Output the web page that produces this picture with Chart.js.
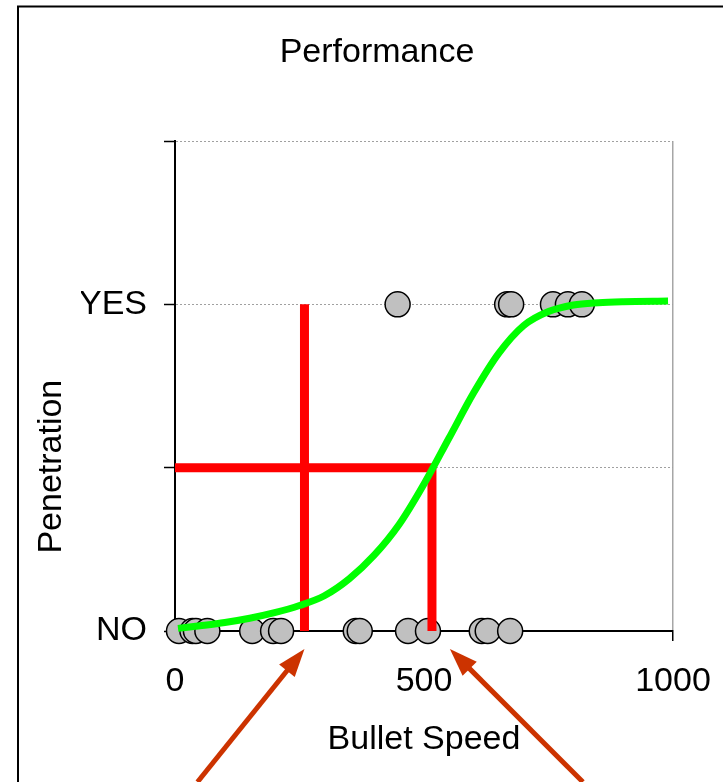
<!DOCTYPE html>
<html>
<head>
<meta charset="utf-8">
<script src="https://cdn.jsdelivr.net/npm/chart.js@4"></script>
<style>
html,body{margin:0;padding:0;background:#fff;overflow:hidden}
canvas{display:block}
</style>
</head>
<body>
<canvas id="c" width="723" height="782"></canvas>
<script>
// ---- data ----
const chartTitle = 'Performance';
const xAxisTitle = 'Bullet Speed';
const yAxisTitle = 'Penetration';
const xTickValues = [0, 500, 1000];
const xTickLabels = ['0', '500', '1000'];
const yTickValues = [0, 0.5, 1, 1.5];
const yTickLabels = ['NO', '', 'YES', ''];

// observed outcomes (NO = 0, YES = 1)
const noSpeeds  = [8, 35, 42, 65, 155, 197, 213, 363, 371, 468, 508, 616, 628, 673];
const noOutcome = [0, 0, 0, 0, 0, 0, 0, 0, 0, 0, 0, 0, 0, 0];
const yesSpeeds  = [447, 667, 675, 759, 789, 817];
const yesOutcome = [1, 1, 1, 1, 1, 1];

// fitted curve
const curveSpeeds = [6, 50, 100, 150, 200, 250, 300, 350, 400, 450, 500, 550, 600, 650, 700, 750, 800, 850, 900, 990];
const curveProb   = [0.008, 0.016, 0.026, 0.039, 0.056, 0.078, 0.108, 0.160, 0.232, 0.326, 0.450, 0.590, 0.730, 0.850, 0.935, 0.978, 0.998, 1.005, 1.008, 1.010];

// red guide lines
const guide1X = [260, 260];
const guide1Y = [0, 1];
const guide2X = [0, 516, 516];
const guide2Y = [0.5, 0.5, 0];

// arrow annotations (speed each arrow points at)
const arrowSpeeds = [260, 552];
const arrowSides  = [-1, 1];

const F = "'Liberation Sans', Arial, sans-serif";
const toXY = (xs, ys) => xs.map((x, i) => ({x: x, y: ys[i]}));

const decorPlugin = {
  id: 'decor',
  afterDraw(chart) {
    const ctx = chart.ctx;
    const xs = chart.scales.x, ys = chart.scales.y;
    const area = chart.chartArea;
    ctx.save();
    // outer frame
    ctx.strokeStyle = '#000';
    ctx.lineWidth = 2;
    ctx.beginPath();
    ctx.moveTo(18, 782);
    ctx.lineTo(18, 6.5);
    ctx.lineTo(723, 6.5);
    ctx.stroke();
    // y axis title
    ctx.save();
    ctx.translate(52, ys.getPixelForValue(0.5) - 1);
    ctx.rotate(-Math.PI / 2);
    ctx.fillStyle = '#000';
    ctx.font = '34px ' + F;
    ctx.textAlign = 'center';
    ctx.textBaseline = 'middle';
    ctx.fillText(yAxisTitle, 0, 0);
    ctx.restore();
    // arrows
    ctx.strokeStyle = '#CC3300';
    ctx.fillStyle = '#CC3300';
    arrowSpeeds.forEach((v, i) => {
      const tx = xs.getPixelForValue(v);
      const ty = area.bottom + 18;
      const side = arrowSides[i];
      const fx = tx + (side < 0 ? -107 : 133);
      const fy = ty + 133;
      const dx = tx - fx, dy = ty - fy;
      const len = Math.hypot(dx, dy);
      const ux = dx / len, uy = dy / len;
      const headL = 28, headW = 10;
      const bx = tx - ux * headL, by = ty - uy * headL;
      ctx.lineWidth = 5;
      ctx.beginPath();
      ctx.moveTo(fx, fy);
      ctx.lineTo(bx + ux * 2, by + uy * 2);
      ctx.stroke();
      ctx.beginPath();
      ctx.moveTo(tx, ty);
      ctx.lineTo(bx - uy * headW, by + ux * headW);
      ctx.lineTo(bx + uy * headW, by - ux * headW);
      ctx.closePath();
      ctx.fill();
    });
    ctx.restore();
  }
};

new Chart(document.getElementById('c'), {
  type: 'scatter',
  data: {
    datasets: [
      {
        label: 'Fit', type: 'line', data: toXY(curveSpeeds, curveProb),
        borderColor: '#00FF00', borderWidth: 7, pointRadius: 0, fill: false,
        cubicInterpolationMode: 'monotone', borderCapStyle: 'butt', order: 1, clip: false
      },
      {
        label: 'Guide 1', type: 'line', data: toXY(guide1X, guide1Y),
        borderColor: '#FF0000', borderWidth: 9, pointRadius: 0, fill: false, tension: 0,
        borderCapStyle: 'butt', borderJoinStyle: 'miter', order: 2, clip: false
      },
      {
        label: 'Guide 2', type: 'line', data: toXY(guide2X, guide2Y),
        borderColor: '#FF0000', borderWidth: 9, pointRadius: 0, fill: false, tension: 0,
        borderCapStyle: 'butt', borderJoinStyle: 'miter', order: 2, clip: false
      },
      {
        label: 'NO', data: toXY(noSpeeds, noOutcome), showLine: false,
        pointRadius: 12.5, pointBackgroundColor: '#C0C0C0', pointBorderColor: '#000',
        pointBorderWidth: 1.5, order: 3, clip: false
      },
      {
        label: 'YES', data: toXY(yesSpeeds, yesOutcome), showLine: false,
        pointRadius: 12.5, pointBackgroundColor: '#C0C0C0', pointBorderColor: '#000',
        pointBorderWidth: 1.5, order: 3, clip: false
      }
    ]
  },
  options: {
    responsive: false,
    animation: false,
    events: [],
    layout: { padding: { left: 81, right: 50, top: 0, bottom: 0 } },
    plugins: {
      legend: { display: false },
      tooltip: { enabled: false },
      title: {
        display: true, text: chartTitle, color: '#000',
        font: { family: F, size: 34, weight: 'normal' },
        padding: { top: 32, bottom: 68.2 }
      }
    },
    scales: {
      x: {
        type: 'linear', min: 0, max: 1000,
        afterBuildTicks: s => { s.ticks = xTickValues.map(v => ({ value: v })); },
        afterFit: s => { s.height = 151; s.paddingRight = 0; s.paddingLeft = 0; },
        grid: {
          color: c => (c.tick && c.tick.value === 1000) ? '#a6a6a6' : 'rgba(0,0,0,0)',
          lineWidth: 1.5, tickColor: '#000', tickLength: 10, tickWidth: 1.5
        },
        border: { color: '#000', width: 2 },
        ticks: {
          callback: (v, i) => xTickLabels[i],
          color: '#000', font: { family: F, size: 34 }, padding: 20, maxRotation: 0
        },
        title: {
          display: true, text: xAxisTitle, color: '#000',
          font: { family: F, size: 34 }, padding: { top: 0, bottom: 22 }
        }
      },
      y: {
        type: 'linear', min: 0, max: 1.5,
        afterBuildTicks: s => { s.ticks = yTickValues.map(v => ({ value: v })); },
        afterFit: s => { s.width = 94; },
        grid: {
          color: c => (c.tick && c.tick.value > 0) ? '#a0a0a0' : 'rgba(0,0,0,0)',
          lineWidth: 1, tickColor: '#000', tickLength: 11, tickWidth: 1.5
        },
        border: { color: '#000', width: 2, dash: [2, 2] },
        ticks: {
          callback: (v, i) => yTickLabels[i],
          color: '#000', font: { family: F, size: 34 }, padding: 17
        }
      }
    }
  },
  plugins: [decorPlugin]
});
</script>
</body>
</html>
